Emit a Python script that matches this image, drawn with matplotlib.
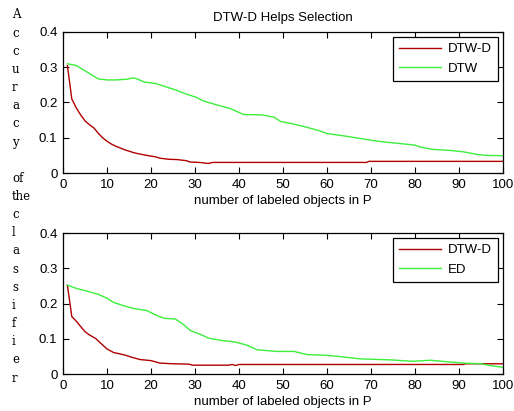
import matplotlib
matplotlib.use("Agg")
import matplotlib.pyplot as plt
import matplotlib.ticker as ticker

# Top panel: DTW-D vs DTW
top_dtwd_x = [1, 2, 3, 4, 5, 6, 7, 8, 9, 10, 11, 12, 14, 16, 17, 19, 21, 22, 24, 26, 28, 29, 31, 33, 34,
              40, 50, 60, 69, 69.5, 80, 90, 100]
top_dtwd_y = [0.305, 0.21, 0.185, 0.165, 0.148, 0.137, 0.128, 0.113, 0.1, 0.09, 0.082, 0.076, 0.066, 0.058,
              0.055, 0.05, 0.046, 0.042, 0.039, 0.038, 0.035, 0.031, 0.030, 0.027, 0.030,
              0.030, 0.030, 0.030, 0.030, 0.033, 0.033, 0.033, 0.033]
top_dtw_x = [1, 3, 5, 8, 10, 12, 14.5, 16, 17, 18.5, 21, 23, 25.5, 28, 30, 32, 35, 38, 41, 45, 46, 48,
             49.5, 52, 55, 58, 60, 64, 67, 70, 73, 77, 80, 81, 84, 88, 91, 94, 96, 100]
top_dtw_y = [0.31, 0.305, 0.29, 0.267, 0.264, 0.264, 0.266, 0.27, 0.266, 0.258, 0.254, 0.246, 0.236,
             0.224, 0.216, 0.204, 0.193, 0.183, 0.166, 0.165, 0.163, 0.158, 0.146, 0.14, 0.131, 0.121,
             0.112, 0.105, 0.099, 0.093, 0.088, 0.083, 0.079, 0.074, 0.067, 0.064, 0.060, 0.053, 0.05, 0.049]

# Bottom panel: DTW-D vs ED
bot_dtwd_x = [1, 2, 3, 4, 5, 6, 7.5, 8.5, 10, 11.5, 14, 15.5, 17.5, 20, 22, 25, 28.5, 29.5, 37.5, 38.5,
              39.2, 40, 50, 60, 70, 80, 91, 91.5, 100]
bot_dtwd_y = [0.252, 0.163, 0.15, 0.135, 0.12, 0.111, 0.1, 0.088, 0.071, 0.061, 0.054, 0.048, 0.041, 0.038,
              0.031, 0.029, 0.028, 0.025, 0.025, 0.027, 0.024, 0.027, 0.027, 0.027, 0.027, 0.027, 0.027,
              0.029, 0.029]
bot_ed_x = [1, 3, 5.5, 8, 10, 11.5, 14, 16, 19, 21.5, 23, 25.5, 27, 29, 31.5, 33, 36, 39, 41.5, 43, 44,
            48.5, 52.5, 55.5, 60, 62.5, 67.5, 74.5, 79.5, 83.5, 88, 91, 95, 97, 100]
bot_ed_y = [0.252, 0.243, 0.235, 0.226, 0.215, 0.203, 0.193, 0.186, 0.18, 0.165, 0.158, 0.156, 0.144,
            0.123, 0.111, 0.102, 0.095, 0.091, 0.083, 0.075, 0.069, 0.064, 0.064, 0.055, 0.053, 0.05,
            0.043, 0.04, 0.036, 0.039, 0.034, 0.031, 0.029, 0.024, 0.019]

ylabel_lines = ["A", "c", "c", "u", "r", "a", "c", "y", "", "of", "the",
                "c", "l", "a", "s", "s", "i", "f", "i", "e", "r"]

RED = "#b00000"
GREEN = "#3cef3c"

plt.rcParams["font.family"] = ["Liberation Sans", "DejaVu Sans"]
plt.rcParams["font.size"] = 9.5

W, H = 514, 411
fig = plt.figure(figsize=(W / 100, H / 100), dpi=100)

ax1 = fig.add_axes([63 / W, 1 - 173 / H, 440 / W, 141 / H])
ax2 = fig.add_axes([63 / W, 1 - 374 / H, 440 / W, 141 / H])

panels = [
    (ax1, top_dtwd_x, top_dtwd_y, top_dtw_x, top_dtw_y, "DTW"),
    (ax2, bot_dtwd_x, bot_dtwd_y, bot_ed_x, bot_ed_y, "ED"),
]

for ax, rx, ry, gx, gy, other in panels:
    ax.plot(rx, ry, color=RED, linewidth=1.0, label="DTW-D")
    ax.plot(gx, gy, color=GREEN, linewidth=1.0, label=other)
    ax.set_xlim(0, 100)
    ax.set_ylim(0, 0.4)
    ax.set_xticks(range(0, 101, 10))
    ax.set_yticks([0, 0.1, 0.2, 0.3, 0.4])
    ax.yaxis.set_major_formatter(ticker.FormatStrFormatter("%g"))
    ax.tick_params(direction="in", top=True, right=True, length=4, width=0.8,
                   labelsize=9.5, pad=4)
    for s in ax.spines.values():
        s.set_linewidth(0.9)
    ax.set_xlabel("number of labeled objects in P", fontsize=9.5, labelpad=3)
    leg = ax.legend(loc="upper right", fancybox=False, framealpha=1, edgecolor="black",
                    borderaxespad=0.4, handlelength=3.2, handletextpad=0.5, fontsize=9.5,
                    borderpad=0.45, labelspacing=0.55)
    leg.get_frame().set_linewidth(0.9)

ax1.set_title("DTW-D Helps Selection", fontsize=9.5, pad=8)

# stacked y label, one line per row
for i, s in enumerate(ylabel_lines):
    fig.text(12 / W, 1 - (15 + 18.15 * i) / H, s, family="DejaVu Serif",
             fontsize=8.5, ha="left", va="center")

fig.savefig("out.png", dpi=100)
